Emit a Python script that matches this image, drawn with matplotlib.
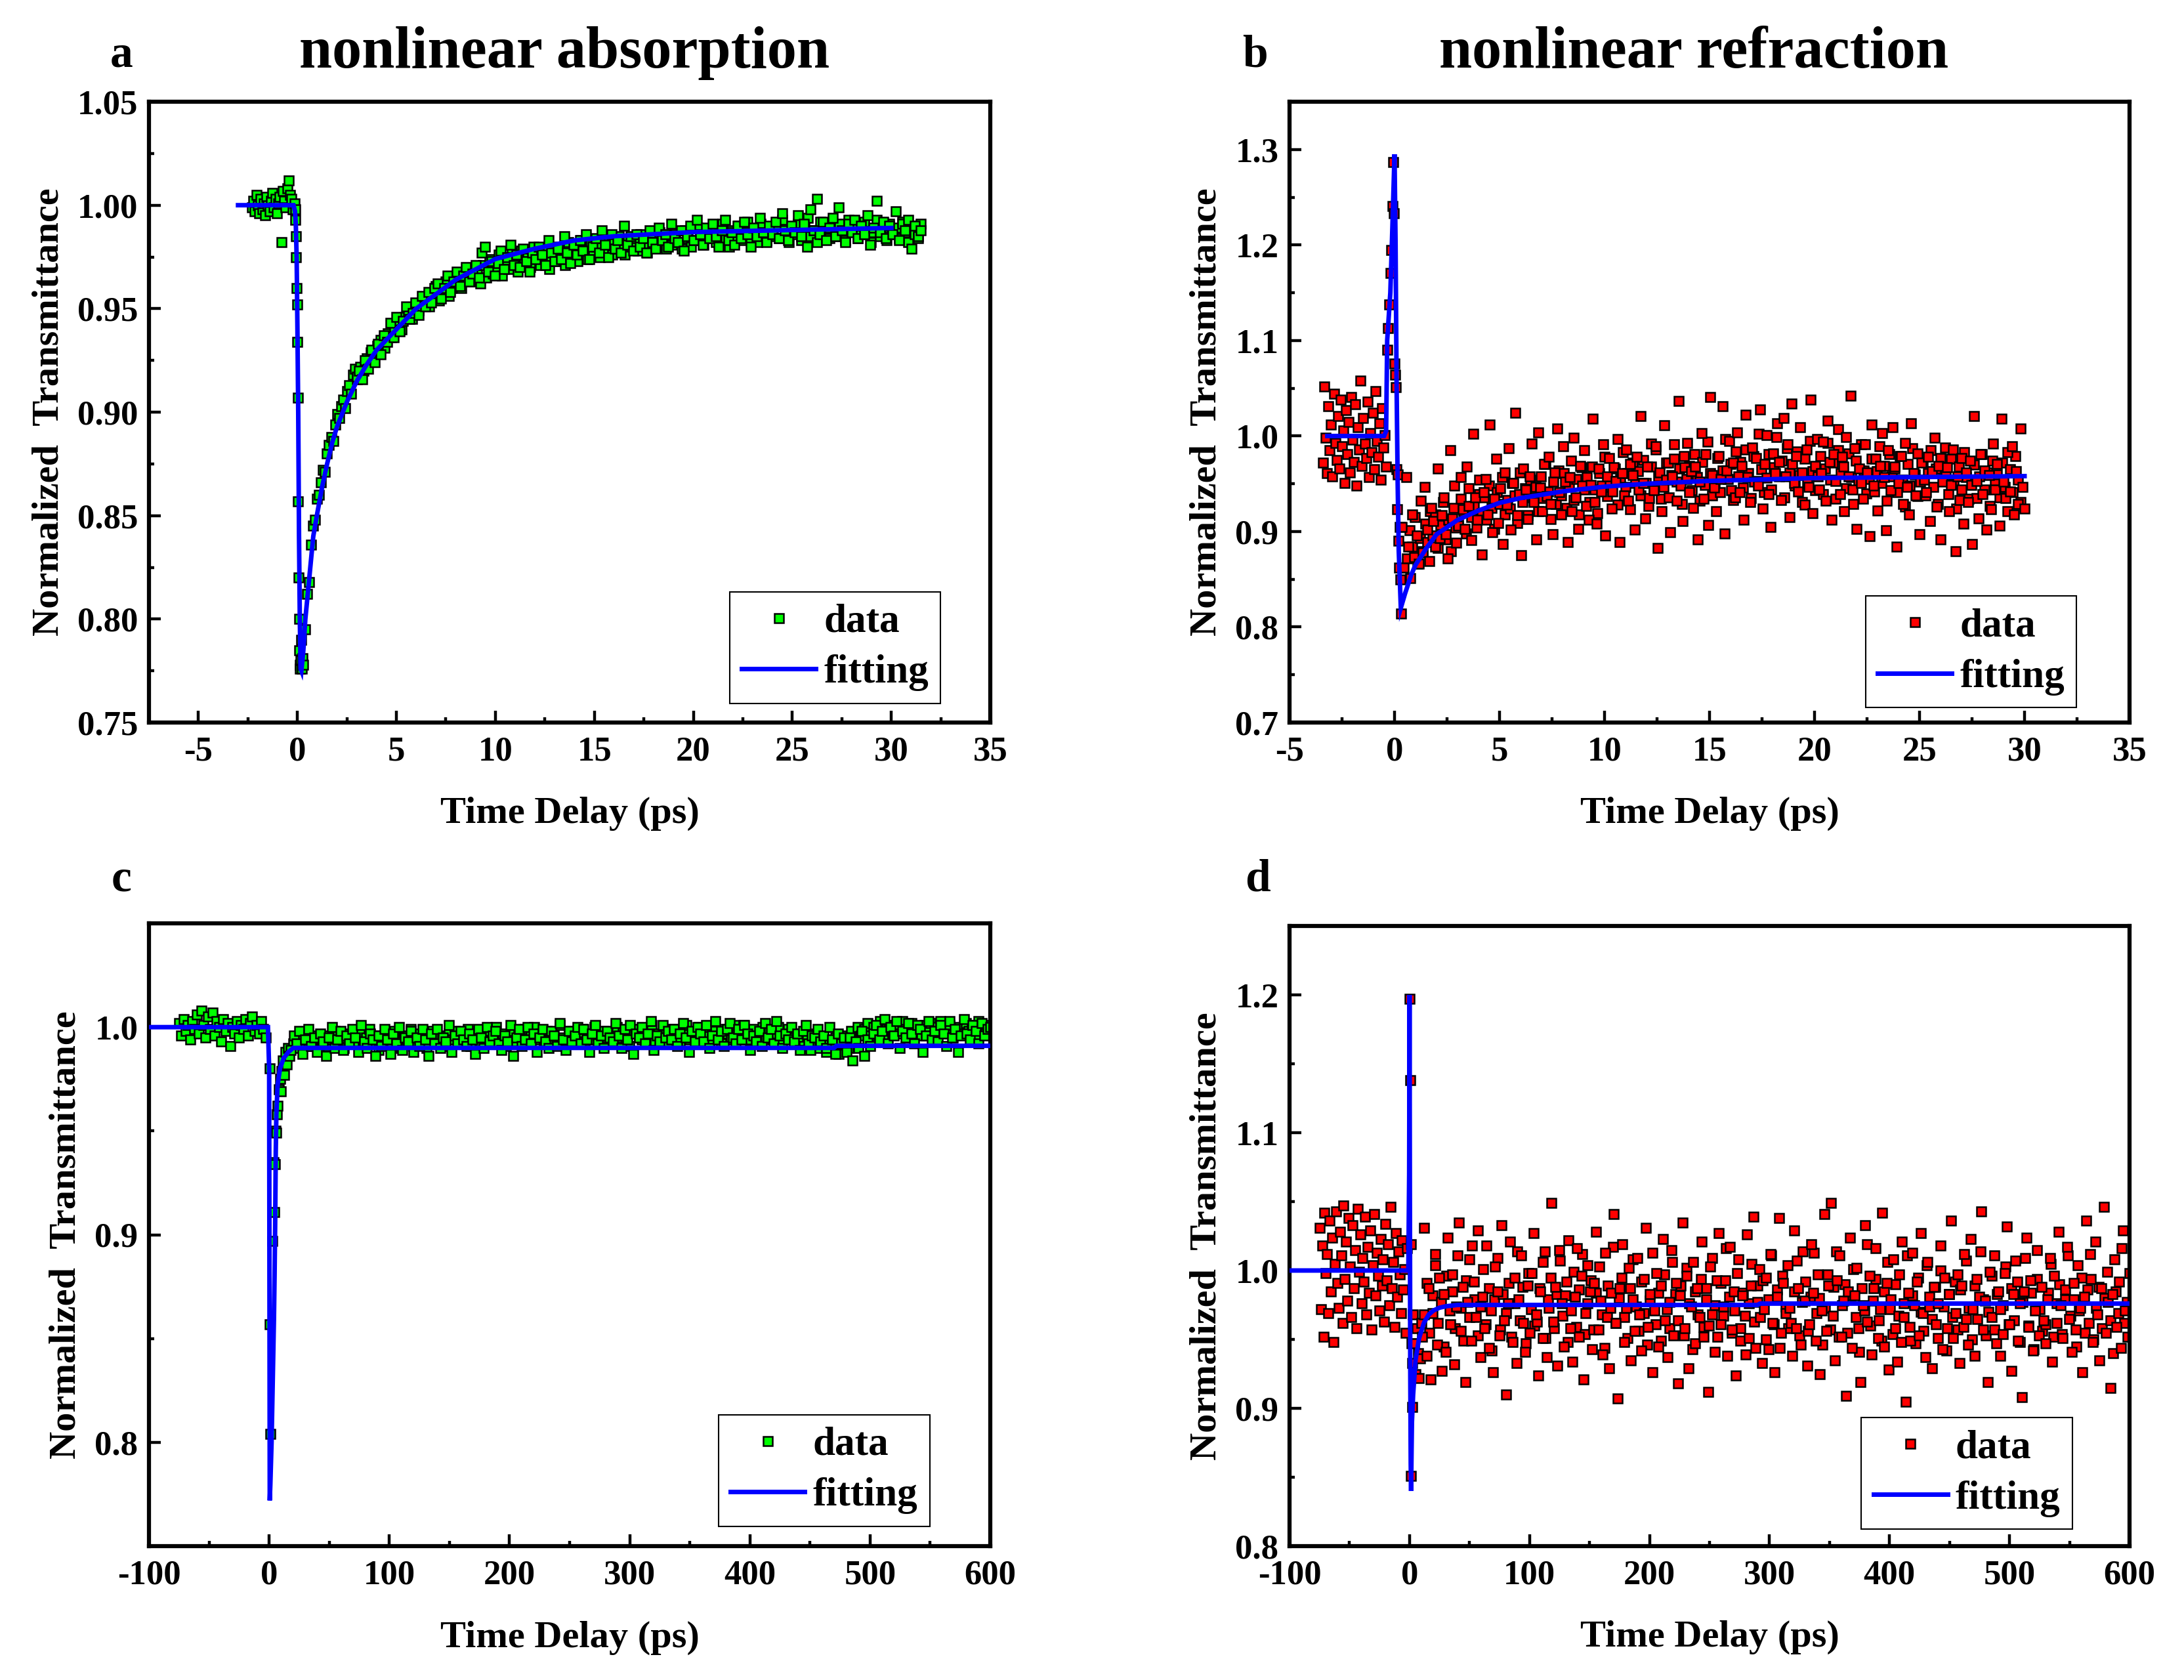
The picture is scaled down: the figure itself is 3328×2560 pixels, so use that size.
import numpy as np
import matplotlib
matplotlib.use('Agg')
import matplotlib.pyplot as plt
from matplotlib.ticker import MultipleLocator, FormatStrFormatter
from matplotlib.lines import Line2D

plt.rcParams['font.family'] = ['Liberation Serif', 'DejaVu Serif']
plt.rcParams['font.weight'] = 'bold'
plt.rcParams['axes.unicode_minus'] = False

# ---------------- Panel a : nonlinear absorption (short window) ----------------
a_pre_range = (-2.3, -0.15)
a_pre_y = [0.999, 1.002, 0.997, 1.005, 1.000, 0.996, 1.003, 0.998, 1.001, 0.995,
           1.004, 1.000, 0.997, 1.002, 1.006, 0.999, 1.003, 0.996, 1.001, 1.004,
           0.982, 1.007, 1.002, 0.999, 1.008, 1.012, 1.005, 1.003, 0.998, 1.001]
a_spike_x = [-0.12, -0.10, -0.08, -0.06, -0.04, -0.02, 0.00, 0.02, 0.04, 0.06,
             0.08, 0.10, 0.12, 0.14, 0.16, 0.18, 0.22, 0.26]
a_spike_y = [0.998, 0.993, 0.985, 0.975, 0.960, 0.952, 0.934, 0.907, 0.857, 0.820,
             0.800, 0.785, 0.778, 0.776, 0.780, 0.790, 0.776, 0.781]
a_rise1_range = (0.3, 3.0)
a_rise1_y = [0.778, 0.795, 0.812, 0.818, 0.836, 0.845, 0.848, 0.858, 0.860, 0.866,
             0.872, 0.871, 0.880, 0.884, 0.888, 0.886, 0.894, 0.899, 0.897, 0.903,
             0.906, 0.902, 0.910, 0.913, 0.909, 0.918, 0.921, 0.916]
a_rise2_range = (3.1, 31.5)
a_rise2_y = [0.920, 0.916, 0.925, 0.921, 0.930, 0.924,
             0.933, 0.928, 0.937, 0.934, 0.943, 0.936,
             0.946, 0.939, 0.944, 0.951, 0.945, 0.948,
             0.953, 0.947, 0.956, 0.951, 0.958, 0.953, 0.960,
             0.962, 0.955, 0.960, 0.966, 0.958, 0.963,
             0.968, 0.961, 0.966, 0.970, 0.963, 0.967,
             0.971, 0.965, 0.977, 0.980, 0.968, 0.973, 0.966,
             0.972, 0.978, 0.969, 0.975, 0.981, 0.971,
             0.976, 0.970, 0.979, 0.973, 0.968, 0.977,
             0.974, 0.980, 0.976, 0.971, 0.983, 0.977, 0.973,
             0.979, 0.974, 0.985, 0.977, 0.972, 0.981,
             0.976, 0.983, 0.978, 0.986, 0.974, 0.980,
             0.984, 0.977, 0.988, 0.981, 0.975, 0.986, 0.979,
             0.983, 0.977, 0.990, 0.981, 0.985, 0.978,
             0.986, 0.980, 0.984, 0.977, 0.988, 0.982,
             0.979, 0.989, 0.983, 0.986, 0.980, 0.991, 0.984,
             0.982, 0.988, 0.978, 0.985, 0.990, 0.983,
             0.993, 0.986, 0.981, 0.989, 0.984, 0.991,
             0.985, 0.980, 0.988, 0.993, 0.983, 0.987, 0.981,
             0.990, 0.984, 0.992, 0.986, 0.980, 0.989,
             0.985, 0.994, 0.987, 0.982, 0.990, 0.986,
             0.992, 0.984, 0.996, 0.988, 0.983, 0.990, 0.987,
             0.995, 0.985, 0.991, 0.980, 0.998, 0.988,
             1.003, 0.986, 0.992, 0.983, 0.989, 0.994,
             0.985, 0.999, 0.988, 0.982, 0.991, 0.987, 0.993,
             0.984, 0.990, 0.986, 0.995, 0.981, 0.989,
             1.002, 0.987, 0.992, 0.984, 0.990, 0.986,
             0.997, 0.983, 0.991, 0.988, 0.993, 0.979, 0.990, 0.985, 0.988]
a_band0_range = (3.0, 7.0)
a_band0_y = [0.917, 0.922, 0.920, 0.926, 0.929, 0.925, 0.932, 0.935, 0.931, 0.938,
             0.936, 0.941, 0.944, 0.940, 0.946, 0.948, 0.945, 0.951, 0.949, 0.953,
             0.955, 0.951, 0.957, 0.955]
a_band1_range = (7.0, 31.5)
a_band1_y = [0.961, 0.954, 0.958, 0.963, 0.956, 0.960,
             0.962, 0.967, 0.960, 0.965, 0.969, 0.963, 0.966,
             0.968, 0.962, 0.971, 0.965, 0.974, 0.967,
             0.970, 0.976, 0.966, 0.973, 0.969, 0.977,
             0.974, 0.968, 0.978, 0.972, 0.975, 0.970, 0.980,
             0.976, 0.971, 0.979, 0.974, 0.969, 0.978,
             0.973, 0.980, 0.976, 0.971, 0.982, 0.975,
             0.978, 0.973, 0.983, 0.977, 0.974, 0.981, 0.976,
             0.980, 0.975, 0.984, 0.978, 0.982, 0.976,
             0.979, 0.985, 0.981, 0.976, 0.983, 0.980,
             0.984, 0.978, 0.986, 0.981, 0.977, 0.985, 0.982,
             0.980, 0.987, 0.983, 0.979, 0.985, 0.981,
             0.986, 0.982, 0.979, 0.988, 0.984, 0.980,
             0.983, 0.989, 0.985, 0.981, 0.987, 0.984, 0.990,
             0.982, 0.986, 0.991, 0.984, 0.980, 0.988,
             0.985, 0.990, 0.983, 0.987, 0.992, 0.984,
             0.988, 0.982, 0.991, 0.986, 0.983, 0.989, 0.985,
             0.990, 0.984, 0.993, 0.987, 0.982, 0.988,
             0.986, 0.991, 0.983, 0.989, 0.994, 0.985,
             0.988, 0.982, 0.992, 0.986, 0.990, 0.984, 0.989,
             0.985, 0.991, 0.987, 0.983, 0.993, 0.988,
             0.990, 0.984, 0.988, 0.992, 0.986, 0.982,
             0.987, 0.993, 0.985, 0.989, 0.983, 0.991, 0.986,
             0.989, 0.984, 0.992, 0.987, 0.982, 0.990, 0.986, 0.984, 0.991]
fit_a_x = [-3.0, -0.5, -0.2, -0.12, -0.08, -0.04, 0.0, 0.04, 0.08, 0.12, 0.16, 0.2,
           0.3, 0.4, 0.5, 0.6, 0.8, 1.0, 1.25, 1.5, 1.75, 2.0, 2.5, 3.0, 3.5, 4.0,
           5.0, 6.0, 7.0, 8.0, 9.0, 10.0, 12.0, 14.0, 16.0, 18.0, 20.0, 25.0, 30.0]
fit_a_y = [1.0, 1.0, 1.0, 0.997, 0.99, 0.975, 0.94, 0.90, 0.84, 0.80, 0.776, 0.775,
           0.785, 0.80, 0.81, 0.82, 0.84, 0.851, 0.864, 0.875, 0.885, 0.893, 0.905,
           0.915, 0.923, 0.930, 0.940, 0.950, 0.957, 0.964, 0.969, 0.974, 0.979,
           0.983, 0.985, 0.986, 0.987, 0.988, 0.989]

# ---------------- Panel b : nonlinear refraction (short window) ----------------
b_pre_range = (-3.4, -0.4)
b_pre_y = [0.972, 1.052, 0.998, 0.961, 1.031, 0.985, 1.012, 0.958, 1.044, 0.993,
           0.975, 1.021, 0.966, 1.038, 0.989, 1.006, 0.951, 1.027, 0.981, 1.015,
           0.962, 1.041, 0.996, 0.973, 1.033, 0.948, 1.009, 0.986, 1.058, 0.969,
           1.019, 0.992, 0.977, 1.036, 0.957, 1.003, 0.983, 1.024, 0.965, 1.047,
           0.995, 0.978, 1.013, 0.954, 1.029, 0.988, 1.001, 0.968]
b_spike_x = [-0.35, -0.30, -0.25, -0.20, -0.15, -0.10, -0.05, -0.02, 0.00, 0.03,
             0.06, 0.10, 0.13, 0.16, 0.20, 0.22, 0.25, 0.28, 0.30]
b_spike_y = [1.090, 1.113, 1.138, 1.171, 1.195, 1.241, 1.287, 1.233, 1.076, 1.064,
             1.051, 0.965, 0.923, 0.960, 0.890, 0.862, 0.905, 0.850, 0.814]
b_post_range = (0.35, 30.0)
b_post_y = [0.905, 0.862, 0.957, 0.884, 0.851, 0.918, 0.873, 0.896, 0.866, 0.932,
            0.878, 0.947, 0.902, 0.869, 0.925, 0.911, 0.884, 0.966, 0.893, 0.917,
            0.936, 0.897, 0.872, 0.985, 0.914, 0.948, 0.888, 0.906, 0.957, 0.923,
            0.903, 0.968, 0.927, 0.891, 1.002, 0.936, 0.912, 0.954, 0.876, 0.941,
            0.955, 0.918, 1.012, 0.899, 0.934, 0.976, 0.909, 0.945, 0.887, 0.962,
            0.928, 0.987, 0.902, 0.951, 1.024, 0.917, 0.939, 0.875, 0.966, 0.944,
            0.913, 0.958, 0.992, 0.931, 0.892, 1.004, 0.946, 0.921, 0.971, 0.937,
            0.978, 0.929, 0.897, 0.962, 1.008, 0.941, 0.918, 0.989, 0.952, 0.889,
            0.957, 0.921, 0.998, 0.936, 0.903, 0.969, 0.948, 0.985, 0.927, 0.912,
            0.949, 1.018, 0.931, 0.908, 0.966, 0.942, 0.991, 0.896, 0.958, 0.977,
            0.924, 0.967, 0.953, 0.997, 0.889, 0.961, 0.938, 0.986, 0.932, 0.971,
            0.959, 0.902, 0.978, 0.944, 1.021, 0.951, 0.914, 0.968, 0.935, 0.992,
            0.943, 0.989, 0.883, 0.962, 0.921, 1.011, 0.954, 0.972, 0.899, 0.958,
            0.976, 0.932, 1.037, 0.948, 0.911, 0.967, 0.993, 0.941, 0.963, 0.925,
            0.968, 0.892, 0.952, 1.003, 0.934, 0.981, 0.907, 1.041, 0.959, 0.946,
            0.921, 0.979, 0.955, 1.031, 0.898, 0.964, 0.995, 0.943, 0.972, 0.936,
            1.004, 0.941, 0.969, 0.912, 1.022, 0.957, 0.931, 0.988, 0.952, 0.977,
            0.948, 1.028, 0.924, 0.971, 1.001, 0.939, 0.905, 0.982, 0.961, 1.013,
            0.973, 0.933, 1.019, 0.958, 0.991, 0.915, 1.034, 0.951, 0.979, 0.942,
            1.009, 0.962, 0.928, 0.986, 0.947, 1.038, 0.919, 0.969, 0.997, 0.944,
            0.961, 0.994, 0.932, 1.016, 0.973, 0.912, 0.981, 0.953, 1.007, 0.939,
            0.978, 0.921, 0.999, 0.958, 1.042, 0.944, 0.987, 0.903, 0.966, 0.951,
            0.934, 0.991, 0.962, 0.895, 1.012, 0.948, 0.976, 0.922, 0.969, 1.003,
            0.957, 0.901, 0.985, 0.943, 1.009, 0.968, 0.884, 0.951, 0.979, 0.929,
            0.993, 0.947, 0.918, 1.013, 0.961, 0.938, 0.982, 0.897, 0.972, 0.954,
            0.941, 0.978, 0.911, 0.963, 0.998, 0.926, 0.969, 0.892, 0.952, 0.988,
            0.967, 0.921, 0.949, 0.986, 0.879, 0.958, 0.933, 0.977, 0.908, 0.962,
            0.931, 0.974, 0.887, 1.021, 0.953, 0.914, 0.981, 0.939, 0.964, 0.902,
            0.959, 0.923, 0.992, 0.944, 0.971, 0.906, 1.018, 0.952, 0.935, 0.983,
            0.942, 0.989, 0.918, 0.963, 0.929, 1.008, 0.947, 0.924]
b_band_range = (0.6, 29.8)
b_band_y = [0.872, 0.901, 0.884, 0.915, 0.866, 0.893, 0.879, 0.908, 0.889, 0.921,
            0.896, 0.918, 0.883, 0.907, 0.931, 0.892, 0.912, 0.879, 0.925, 0.904,
            0.909, 0.934, 0.921, 0.898, 0.945, 0.915, 0.927, 0.904, 0.939, 0.919,
            0.936, 0.912, 0.948, 0.925, 0.903, 0.941, 0.929, 0.957, 0.918, 0.933,
            0.924, 0.951, 0.938, 0.909, 0.962, 0.931, 0.945, 0.917, 0.954, 0.936,
            0.947, 0.921, 0.958, 0.935, 0.971, 0.942, 0.913, 0.952, 0.929, 0.964,
            0.938, 0.961, 0.925, 0.949, 0.974, 0.933, 0.955, 0.918, 0.967, 0.944,
            0.957, 0.931, 0.968, 0.944, 0.919, 0.961, 0.948, 0.978, 0.937, 0.953,
            0.942, 0.966, 0.928, 0.955, 0.983, 0.947, 0.961, 0.923, 0.972, 0.951,
            0.963, 0.938, 0.975, 0.951, 0.927, 0.968, 0.945, 0.986, 0.958, 0.934,
            0.947, 0.972, 0.936, 0.959, 0.991, 0.952, 0.966, 0.929, 0.979, 0.955,
            0.969, 0.943, 0.981, 0.957, 0.932, 0.973, 0.949, 0.994, 0.961, 0.938,
            0.952, 0.977, 0.941, 0.964, 0.997, 0.955, 0.971, 0.933, 0.984, 0.958,
            0.973, 0.946, 0.986, 0.961, 0.935, 0.979, 0.953, 1.002, 0.965, 0.941,
            0.956, 0.981, 0.944, 0.967, 0.999, 0.958, 0.974, 0.936, 0.987, 0.962,
            0.971, 0.948, 0.984, 0.959, 0.931, 0.976, 0.951, 0.995, 0.963, 0.943,
            0.958, 0.979, 0.939, 0.966, 0.993, 0.954, 0.972, 0.934, 0.985, 0.961,
            0.968, 0.945, 0.982, 0.957, 0.929, 0.974, 0.952, 0.991, 0.964, 0.940,
            0.955, 0.976, 0.942, 0.963, 0.989, 0.951, 0.969, 0.932, 0.981, 0.958,
            0.966, 0.941, 0.979, 0.954, 0.926, 0.971, 0.948, 0.987, 0.960, 0.937,
            0.952, 0.973, 0.938, 0.961, 0.985, 0.947, 0.966, 0.929, 0.977, 0.955,
            0.963, 0.939, 0.976, 0.950, 0.924, 0.968, 0.944, 0.983, 0.957, 0.934,
            0.949, 0.970, 0.935, 0.958, 0.981, 0.944, 0.962, 0.927, 0.974, 0.952,
            0.960, 0.936, 0.972, 0.947, 0.921, 0.965, 0.941, 0.979, 0.954, 0.931]
fit_b_x = [-3.2, -0.5, -0.4, -0.35, -0.2, -0.1, 0.0, 0.05, 0.1, 0.15, 0.2, 0.3, 0.5,
           0.8, 1.0, 1.5, 2.0, 3.0, 4.0, 5.0, 6.0, 8.0, 10.0, 12.0, 15.0, 20.0, 25.0, 30.0]
fit_b_y = [1.0, 1.0, 1.005, 1.1, 1.15, 1.22, 1.295, 1.2, 1.05, 0.95, 0.88, 0.82, 0.835,
           0.855, 0.865, 0.882, 0.897, 0.912, 0.922, 0.930, 0.935, 0.942, 0.947, 0.950,
           0.953, 0.956, 0.957, 0.958]

# ---------------- Panel c : nonlinear absorption (long window) ----------------
c_pre_range = (-75.0, -3.0)
c_pre_y = [1.002, 0.996, 1.004, 0.998, 1.001, 0.994, 1.003, 0.999, 1.006, 0.997,
           1.008, 1.001, 0.995, 1.005, 0.999, 1.007, 0.996, 1.003, 1.000, 0.993,
           1.004, 0.998, 1.002, 0.991, 1.000, 0.997, 1.003, 0.995, 1.001, 0.999,
           1.004, 0.996, 1.002, 1.005, 0.998, 1.001, 0.997, 1.003, 0.999, 0.995]
c_spike_x = [0.5, 0.6, 0.8, 2.4, 4.0, 4.2, 5.1, 5.4, 6.0, 6.5, 7.0, 8.0, 9.0, 9.7,
             10.5, 11.5, 12.5, 13.3, 14.5, 15.5, 17.0]
c_spike_y = [0.980, 0.857, 0.804, 0.897, 0.935, 0.911, 0.934, 0.950, 0.949, 0.958,
             0.962, 0.970, 0.975, 0.969, 0.979, 0.984, 0.977, 0.988, 0.982, 0.990, 0.986]
c_post_range = (18.0, 600.0)
c_post_y = [0.989, 0.996, 0.992, 0.998, 0.987, 0.994, 0.999, 0.991, 0.995, 0.988,
            0.997, 0.993, 0.986, 0.995, 1.000, 0.990, 0.994, 0.998, 0.989, 0.996,
            0.992, 0.999, 0.995, 0.988, 1.001, 0.993, 0.990, 0.997, 0.994, 0.986,
            0.996, 0.991, 0.999, 0.994, 0.987, 0.997, 0.992, 1.000, 0.989, 0.995,
            0.993, 0.998, 0.988, 0.995, 0.991, 0.999, 0.994, 0.986, 0.997, 0.992,
            0.999, 0.990, 0.995, 0.993, 1.001, 0.988, 0.996, 0.992, 0.998, 0.994,
            0.991, 0.997, 0.994, 0.987, 0.999, 0.995, 0.990, 1.000, 0.993, 0.996,
            0.998, 0.992, 0.989, 0.996, 0.993, 1.001, 0.986, 0.995, 0.999, 0.991,
            0.994, 1.000, 0.992, 0.997, 0.988, 0.995, 0.999, 0.993, 0.990, 0.998,
            0.996, 0.991, 1.002, 0.994, 0.989, 0.998, 0.993, 0.996, 1.000, 0.992,
            0.999, 0.994, 0.988, 0.997, 1.001, 0.992, 0.996, 0.990, 0.998, 0.995,
            0.993, 1.002, 0.996, 0.990, 0.999, 0.994, 1.001, 0.987, 0.997, 0.995,
            1.000, 0.992, 0.997, 1.003, 0.989, 0.996, 0.993, 1.001, 0.995, 0.998,
            0.994, 0.999, 0.991, 0.997, 1.002, 0.995, 0.988, 0.998, 0.993, 1.000,
            0.997, 0.993, 1.001, 0.990, 0.996, 1.003, 0.994, 0.998, 0.991, 0.999,
            1.002, 0.995, 0.992, 0.999, 0.994, 1.001, 0.997, 0.989, 0.996, 0.993,
            0.998, 0.991, 1.002, 0.995, 0.999, 0.992, 1.003, 0.996, 0.990, 0.997,
            0.994, 1.000, 0.993, 0.997, 0.989, 0.998, 1.001, 0.992, 0.996, 0.995,
            0.999, 0.993, 0.996, 0.990, 1.000, 0.994, 0.987, 0.997, 0.992, 0.995,
            0.988, 0.995, 0.984, 0.993, 0.990, 0.998, 0.986, 0.994, 0.991, 0.997,
            1.001, 0.994, 0.998, 1.004, 0.992, 1.000, 0.996, 1.003, 0.990, 0.998,
            0.995, 1.002, 0.997, 0.992, 1.001, 0.999, 0.988, 0.996, 1.003, 0.994,
            0.998, 0.993, 1.001, 0.997, 0.991, 1.003, 0.995, 0.999, 0.988, 0.996,
            1.004, 0.997, 0.994, 1.001, 0.998, 0.992, 1.002, 0.996, 0.999, 1.000]
c_band_range = (20.0, 598.0)
c_band_y = [0.992, 0.995, 0.990, 0.994, 0.997, 0.991, 0.993, 0.996, 0.989, 0.994,
            0.996, 0.991, 0.994, 0.998, 0.992, 0.995, 0.990, 0.997, 0.993, 0.995,
            0.993, 0.997, 0.991, 0.995, 0.999, 0.992, 0.996, 0.989, 0.994, 0.997,
            0.995, 0.992, 0.998, 0.993, 0.990, 0.996, 0.994, 0.999, 0.991, 0.995,
            0.997, 0.993, 0.990, 0.995, 0.998, 0.992, 0.996, 0.994, 0.991, 0.997,
            0.994, 0.998, 0.992, 0.996, 0.993, 0.999, 0.991, 0.995, 0.997, 0.993,
            0.996, 0.992, 0.998, 0.994, 1.000, 0.993, 0.997, 0.991, 0.995, 0.998,
            0.993, 0.997, 0.995, 0.999, 0.992, 0.996, 1.000, 0.994, 0.997, 0.992,
            0.998, 0.994, 0.997, 0.993, 1.001, 0.995, 0.992, 0.998, 0.996, 0.994,
            0.995, 0.999, 0.993, 0.997, 0.994, 1.000, 0.996, 0.992, 0.998, 0.995,
            0.997, 0.993, 1.000, 0.995, 0.998, 0.994, 0.991, 0.997, 0.999, 0.995,
            0.994, 0.998, 0.996, 1.001, 0.993, 0.997, 0.995, 0.999, 0.992, 0.996,
            0.999, 0.995, 0.993, 0.998, 1.001, 0.994, 0.997, 0.996, 1.000, 0.993,
            0.996, 1.000, 0.994, 0.998, 0.995, 0.992, 0.999, 0.997, 0.994, 1.001,
            0.995, 0.998, 1.001, 0.994, 0.997, 0.999, 0.993, 0.996, 1.000, 0.995,
            0.998, 0.994, 0.997, 1.000, 0.992, 0.996, 0.999, 0.995, 0.993, 0.997,
            0.994, 0.991, 0.996, 0.989, 0.993, 0.997, 0.990, 0.995, 0.988, 0.992,
            0.991, 0.995, 0.987, 0.993, 0.996, 0.990, 0.998, 0.994, 1.000, 0.996,
            0.999, 1.002, 0.996, 1.000, 0.997, 1.003, 0.995, 0.999, 1.001, 0.997,
            1.001, 0.997, 1.003, 0.999, 0.995, 1.002, 0.998, 1.000, 0.996, 1.001,
            0.998, 1.002, 0.996, 1.000, 1.003, 0.997, 0.999, 1.001, 0.995, 0.999,
            1.000, 0.997, 1.002, 0.998, 1.001, 0.996, 1.003, 0.999, 0.997, 1.001]
fit_c_x = [-100.0, -1.0, 0.0, 0.5, 1.0, 2.0, 3.0, 4.0, 4.5, 5.0, 5.5, 6.0, 7.0, 9.0,
           12.0, 16.0, 20.0, 470.0, 472.0, 600.0]
fit_c_y = [1.0, 1.0, 0.98, 0.772, 0.78, 0.80, 0.83, 0.86, 0.88, 0.905, 0.94, 0.958,
           0.972, 0.98, 0.985, 0.988, 0.99, 0.99, 0.991, 0.991]

# ---------------- Panel d : nonlinear refraction (long window) ----------------
d_pre_range = (-75.0, -2.0)
d_pre_y = [1.031, 0.972, 1.018, 0.952, 1.042, 0.998, 1.012, 0.969, 1.036, 0.985,
           1.024, 0.948, 1.005, 1.043, 0.991, 0.973, 1.028, 1.011, 0.962, 1.047,
           0.994, 1.021, 0.978, 1.038, 1.003, 0.966, 1.033, 0.987, 1.015, 0.958,
           1.045, 0.999, 1.026, 0.976, 1.009, 0.992, 1.039, 0.968, 1.017, 0.984,
           1.029, 0.957, 1.004, 1.041, 0.982, 1.013, 0.996, 0.971, 1.023, 0.989,
           1.008, 0.963, 1.034, 0.993, 1.019, 0.975, 1.046, 0.987, 1.006, 0.959,
           1.027, 0.981, 1.014, 0.997, 0.969, 1.022, 0.986, 1.001, 0.955, 1.016]
d_spike_x = [0.0, 0.5, 1.0, 1.2, 1.5, 2.0, 2.5, 3.0, 4.0, 5.0, 6.0, 7.0, 8.0, 9.0, 10.0]
d_spike_y = [1.197, 1.138, 1.019, 0.851, 0.947, 0.901, 0.933, 0.968, 0.947, 0.925,
             0.958, 0.940, 0.922, 0.936, 0.962]
d_post_range = (10.5, 600.0)
d_post_y = [0.952, 1.031, 0.938, 0.987, 0.921, 0.969, 1.012, 0.946, 0.995, 0.927,
            0.983, 0.941, 1.024, 0.961, 0.997, 0.932, 0.974, 1.035, 0.956, 0.988,
            0.919, 0.977, 1.008, 0.949, 0.992, 0.966, 1.029, 0.937, 0.981, 0.958,
            1.018, 0.944, 0.971, 0.926, 1.003, 0.985, 0.953, 1.033, 0.964, 0.910,
            0.976, 1.021, 0.948, 0.995, 0.933, 0.979, 1.011, 0.962, 0.941, 0.989,
            0.955, 0.998, 1.027, 0.968, 0.924, 0.985, 0.951, 1.014, 0.937, 0.973,
            1.049, 0.963, 0.988, 0.931, 1.007, 0.976, 0.945, 0.992, 1.022, 0.958,
            0.934, 0.981, 1.016, 0.952, 0.996, 0.921, 0.969, 1.004, 0.985, 0.943,
            0.991, 1.028, 0.957, 0.978, 0.939, 1.013, 0.966, 0.929, 0.984, 1.041,
            0.962, 0.907, 0.987, 1.019, 0.948, 0.973, 1.002, 0.935, 0.979, 0.956,
            1.009, 0.968, 0.942, 0.994, 1.031, 0.959, 0.983, 0.926, 0.971, 0.998,
            0.945, 0.989, 1.023, 0.964, 0.937, 0.977, 1.015, 0.953, 0.991, 0.918,
            0.982, 1.035, 0.958, 0.996, 0.929, 0.974, 1.006, 0.947, 0.987, 0.966,
            1.021, 0.952, 0.979, 0.912, 1.003, 0.968, 0.941, 0.993, 1.027, 0.961,
            0.974, 0.993, 0.938, 1.017, 0.957, 0.985, 0.924, 1.008, 0.949, 0.982,
            0.967, 1.026, 0.951, 0.989, 1.039, 0.944, 0.977, 1.001, 0.933, 0.972,
            0.995, 0.943, 1.012, 0.962, 0.926, 0.981, 1.038, 0.955, 0.991, 0.969,
            1.004, 0.973, 0.938, 1.029, 0.958, 0.987, 0.946, 1.014, 0.978, 0.931,
            0.961, 1.019, 0.984, 0.949, 0.997, 0.925, 0.971, 1.041, 0.956, 0.989,
            1.049, 0.967, 0.935, 0.993, 1.011, 0.952, 0.978, 0.909, 0.985, 1.024,
            0.944, 0.982, 1.002, 0.958, 0.919, 0.975, 1.033, 0.963, 0.996, 0.939,
            0.987, 1.016, 0.951, 0.972, 1.042, 0.945, 0.991, 0.928, 0.979, 1.008,
            0.958, 0.934, 0.997, 1.021, 0.966, 0.905, 0.984, 0.949, 1.013, 0.975,
            0.992, 0.953, 1.027, 0.969, 0.937, 1.006, 0.974, 0.929, 0.988, 0.961,
            0.976, 1.018, 0.943, 0.995, 0.958, 0.983, 1.036, 0.951, 0.969, 0.997,
            0.933, 0.989, 1.012, 0.965, 0.946, 1.023, 0.972, 0.938, 0.994, 0.981,
            1.043, 0.957, 0.978, 0.919, 0.999, 0.966, 1.011, 0.947, 0.985, 0.972,
            0.954, 0.998, 1.032, 0.961, 0.927, 0.983, 1.007, 0.949, 0.976, 0.908,
            0.985, 1.024, 0.959, 0.993, 0.942, 0.971, 1.015, 0.953, 0.988, 0.964,
            0.947, 0.979, 1.009, 0.934, 0.996, 0.962, 1.028, 0.975, 0.951, 0.986,
            1.017, 0.965, 0.941, 0.991, 0.957, 1.004, 0.973, 0.926, 0.981, 1.036,
            0.962, 0.994, 0.948, 1.021, 0.968, 0.935, 0.987, 1.046, 0.955, 0.977,
            0.915, 0.983, 1.008, 0.959, 0.992, 0.944, 1.029, 0.971, 0.952, 0.998]
d_band_range = (12.0, 598.0)
d_band_y = [0.968, 0.991, 0.955, 0.982, 1.004, 0.962, 0.977, 0.945, 0.996, 0.971,
            0.985, 0.958, 1.011, 0.973, 0.949, 0.993, 0.966, 1.018, 0.979, 0.953,
            0.974, 1.001, 0.961, 0.987, 0.942, 0.979, 1.009, 0.957, 0.983, 0.969,
            0.991, 0.952, 0.976, 1.014, 0.964, 0.988, 0.947, 0.998, 0.972, 0.960,
            0.963, 0.987, 1.006, 0.951, 0.979, 0.995, 0.958, 0.983, 1.015, 0.967,
            0.982, 0.948, 0.971, 0.999, 0.959, 0.986, 1.012, 0.954, 0.976, 0.993,
            0.957, 0.984, 1.003, 0.968, 0.944, 0.989, 0.973, 1.017, 0.962, 0.980,
            0.995, 0.966, 0.951, 0.987, 1.008, 0.974, 0.956, 0.992, 0.969, 0.946,
            0.978, 1.013, 0.961, 0.984, 0.949, 0.997, 0.972, 0.958, 1.006, 0.983,
            0.964, 0.989, 0.953, 1.002, 0.976, 0.943, 0.985, 0.968, 0.994, 0.959,
            0.987, 0.960, 1.009, 0.975, 0.952, 0.991, 0.967, 1.016, 0.981, 0.955,
            0.971, 0.998, 0.958, 0.984, 0.939, 0.976, 1.005, 0.963, 0.989, 0.966,
            0.993, 0.950, 0.979, 1.011, 0.961, 0.986, 0.944, 0.996, 0.974, 0.958,
            0.962, 0.985, 1.007, 0.953, 0.977, 0.992, 0.956, 0.981, 1.013, 0.969,
            0.980, 0.946, 0.973, 0.997, 0.957, 0.988, 1.014, 0.952, 0.975, 0.990,
            0.955, 0.982, 1.001, 0.966, 0.941, 0.987, 0.971, 1.019, 0.960, 0.978,
            0.994, 0.964, 0.949, 0.985, 1.006, 0.972, 0.954, 0.990, 0.967, 0.948,
            0.976, 1.011, 0.959, 0.982, 0.947, 0.995, 0.970, 0.956, 1.004, 0.981,
            0.965, 0.988, 0.951, 1.000, 0.974, 0.942, 0.983, 0.966, 0.992, 0.957,
            0.986, 0.959, 1.007, 0.973, 0.950, 0.989, 0.965, 1.014, 0.979, 0.953,
            0.970, 0.996, 0.957, 0.983, 0.938, 0.975, 1.003, 0.961, 0.987, 0.964,
            0.992, 0.948, 0.977, 1.009, 0.960, 0.984, 0.943, 0.994, 0.972, 0.956,
            0.961, 0.984, 1.005, 0.952, 0.976, 0.990, 0.954, 0.979, 1.011, 0.967,
            0.979, 0.945, 0.971, 0.995, 0.955, 0.986, 1.012, 0.950, 0.973, 0.988,
            0.958, 0.980, 0.999, 0.964, 0.940, 0.985, 0.969, 1.016, 0.962, 0.977]
fit_d_x = [-100.0, -1.0, -0.3, 0.0, 0.3, 0.6, 1.0, 1.3, 1.7, 2.0, 3.0, 5.0, 8.0, 12.0,
           16.0, 20.0, 25.0, 30.0, 40.0, 290.0, 292.0, 600.0]
fit_d_y = [1.0, 1.0, 1.07, 1.2, 1.05, 0.93, 0.86, 0.84, 0.87, 0.89, 0.91, 0.935, 0.951,
           0.962, 0.968, 0.971, 0.973, 0.974, 0.975, 0.975, 0.976, 0.976]

# ---------------- text ----------------
panel_letters = ['a', 'b', 'c', 'd']
titles = ['nonlinear absorption', 'nonlinear refraction']
xlabel = 'Time Delay (ps)'
ylabel = 'Normalized  Transmittance'
legend_labels = ['data', 'fitting']

GREEN = '#00ff00'
RED = '#ff0000'
BLUE = '#0000ff'

W, H = 3328.0, 2560.0
fig = plt.figure(figsize=(W / 100, H / 100), dpi=100)

def px_axes(l, r, t, b):
    return fig.add_axes([l / W, 1 - b / H, (r - l) / W, (b - t) / H])

ax_a = px_axes(227, 1509, 155, 1101)
ax_b = px_axes(1965, 3245, 155, 1101)
ax_c = px_axes(227, 1509, 1407, 2356)
ax_d = px_axes(1965, 3245, 1411, 2356)

MS = 10.6
MEW = 1.8
LW = 5.0

def draw(ax, segments, fx, fy, color):
    for xs, ys in segments:
        ax.plot(xs, ys, 's', ls='none', ms=MS, mfc=color, mec='black', mew=MEW, zorder=2)
    ax.plot(fx, fy, '-', color=BLUE, lw=LW, zorder=3, solid_joinstyle='miter')

def lin(rng, ys):
    return np.linspace(rng[0], rng[1], len(ys))

draw(ax_a, [(lin(a_pre_range, a_pre_y), a_pre_y), (a_spike_x, a_spike_y),
            (lin(a_rise1_range, a_rise1_y), a_rise1_y),
            (lin(a_band0_range, a_band0_y), a_band0_y),
            (lin(a_band1_range, a_band1_y), a_band1_y),
            (lin(a_rise2_range, a_rise2_y), a_rise2_y)], fit_a_x, fit_a_y, GREEN)
draw(ax_b, [(lin(b_pre_range, b_pre_y), b_pre_y), (b_spike_x, b_spike_y),
            (lin(b_band_range, b_band_y), b_band_y),
            (lin(b_post_range, b_post_y), b_post_y)], fit_b_x, fit_b_y, RED)
draw(ax_c, [(lin(c_pre_range, c_pre_y), c_pre_y), (c_spike_x, c_spike_y),
            (lin(c_band_range, c_band_y), c_band_y),
            (lin(c_post_range, c_post_y), c_post_y)], fit_c_x, fit_c_y, GREEN)
draw(ax_d, [(lin(d_pre_range, d_pre_y), d_pre_y), (d_spike_x, d_spike_y),
            (lin(d_band_range, d_band_y), d_band_y),
            (lin(d_post_range, d_post_y), d_post_y)], fit_d_x, fit_d_y, RED)

cfg = [
    (ax_a, (-7.5, 35), (0.75, 1.05), 5, 2.5, 0.05, 0.025, '%.2f', GREEN, (0.941, 0.031), -0.119),
    (ax_b, (-5, 35), (0.7, 1.35), 5, 2.5, 0.1, 0.05, '%.1f', RED, (0.937, 0.024), -0.099),
    (ax_c, (-100, 600), (0.75, 1.05), 100, 50, 0.1, 0.05, '%.1f', GREEN, (0.928, 0.032), -0.099),
    (ax_d, (-100, 600), (0.8, 1.25), 100, 50, 0.1, 0.05, '%.1f', RED, (0.932, 0.0275), -0.099),
]

for ax, xl, yl, xmaj, xmin, ymaj, ymin, yfmt, col, legpos, ylx in cfg:
    ax.set_xlim(*xl)
    ax.set_ylim(*yl)
    ax.xaxis.set_major_locator(MultipleLocator(xmaj))
    ax.xaxis.set_minor_locator(MultipleLocator(xmin))
    ax.yaxis.set_major_locator(MultipleLocator(ymaj))
    ax.yaxis.set_minor_locator(MultipleLocator(ymin))
    ax.xaxis.set_major_formatter(FormatStrFormatter('%d'))
    ax.yaxis.set_major_formatter(FormatStrFormatter(yfmt))
    ax.tick_params(which='both', direction='in', top=False, right=False)
    ax.tick_params(which='major', length=13, width=3.2)
    ax.tick_params(which='minor', length=6, width=3.2)
    ax.tick_params(axis='x', which='major', labelsize=38, pad=15)
    ax.tick_params(axis='y', which='major', labelsize=38, pad=12)
    for lab in ax.get_xticklabels() + ax.get_yticklabels():
        lab.set_fontweight('bold')
    for sp in ax.spines.values():
        sp.set_linewidth(4.5)
    ax.set_xlabel(xlabel, fontsize=42, fontweight='bold')
    ax.set_ylabel(ylabel, fontsize=42, fontweight='bold')
    ax.xaxis.set_label_coords(0.5, -0.147)
    ax.xaxis.label.set_verticalalignment('center')
    ax.yaxis.set_label_coords(ylx, 0.5)
    ax.yaxis.label.set_verticalalignment('center')
    handles = [Line2D([], [], marker='s', ls='none', ms=MS, mfc=col, mec='black', mew=MEW),
               Line2D([], [], color=BLUE, lw=LW)]
    leg = ax.legend(handles, legend_labels, loc='lower right', bbox_to_anchor=legpos,
                    bbox_transform=ax.transAxes, borderaxespad=0, fancybox=False,
                    framealpha=1, edgecolor='black', handlelength=1.85,
                    handletextpad=0.2, labelspacing=0.35, borderpad=0.3,
                    prop={'family': 'Liberation Serif', 'weight': 'bold', 'size': 44})
    leg.get_frame().set_linewidth(1.5)

letter_pos = [(185, 85), (1912, 85), (185, 1341), (1917, 1341)]
for (px, py), letter in zip(letter_pos, panel_letters):
    fig.text(px / W, 1 - py / H, letter, fontsize=50, fontweight='bold',
             ha='center', va='center')
fig.text(860 / W, 1 - 81 / H, titles[0], fontsize=65, fontweight='bold', ha='center', va='center')
fig.text(2581 / W, 1 - 81 / H, titles[1], fontsize=65, fontweight='bold', ha='center', va='center')

fig.savefig('out.png', dpi=100)
